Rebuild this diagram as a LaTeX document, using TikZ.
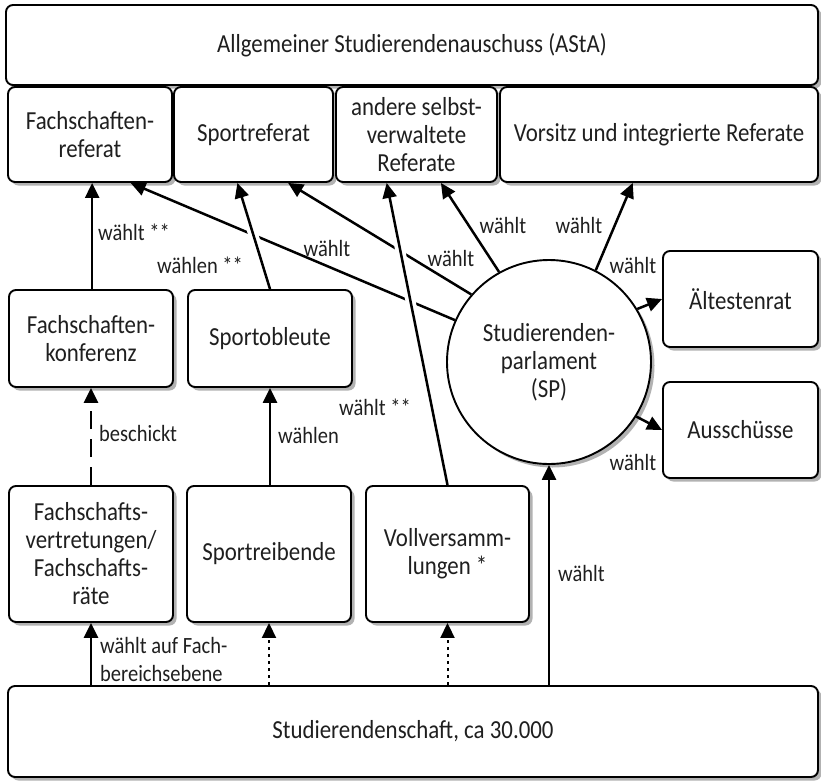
\documentclass[tikz,border=0pt]{standalone}
\usepackage{fontspec}
\setmainfont{Carlito}[FakeStretch=0.88]
\usetikzlibrary{arrows.meta,shadows,calc}
\tikzset{
  box/.style={draw, line width=1.9pt, rounded corners=7pt, fill=white, align=center, inner sep=2pt,
    font=\fontsize{26}{28}\selectfont, text=black!88,
    drop shadow={shadow xshift=3.5pt, shadow yshift=-3.5pt, fill=black!30, opacity=1}},
  spcircle/.style={draw, circle, line width=1.9pt, fill=white, align=center, inner sep=0pt, minimum size=204pt,
    font=\fontsize{26}{28}\selectfont, text=black!88,
    drop shadow={shadow xshift=3.5pt, shadow yshift=-3.5pt, fill=black!30, opacity=1}},
  conn/.style={line width=2.5pt, -{Triangle[length=15pt,width=14pt]}},
  dashconn/.style={conn, dash pattern=on 18pt off 10pt},
  dotconn/.style={line width=2pt, dash pattern=on 3pt off 4pt, -{Triangle[length=15pt,width=14pt]}},
  gap/.style={white, line width=10pt},
  lbl/.style={font=\fontsize{23.3}{28}\selectfont, text=black!88, inner sep=0pt, align=left}
}
\begin{document}
\begin{tikzpicture}[x=1pt,y=-1pt]
\useasboundingbox (0,0) rectangle (821,780);
% top
\node[box, minimum width=812pt, minimum height=80pt] (asta) at (412,45) {Allgemeiner Studierendenauschuss (AStA)};
\node[box, minimum width=164pt, minimum height=95pt] (fr) at (90,134.5) {Fachschaften-\\referat};
\node[box, minimum width=159pt, minimum height=95pt] (sr) at (253.5,134.5) {Sportreferat};
\node[box, minimum width=161pt, minimum height=95pt] (ar) at (416.5,134.5) {andere selbst-\\verwaltete\\Referate};
\node[box, minimum width=318pt, minimum height=95pt] (vr) at (659,134.5) {Vorsitz und integrierte Referate};
% middle
\node[box, minimum width=164pt, minimum height=97pt] (fk) at (91,338.5) {Fachschaften-\\konferenz};
\node[box, minimum width=164pt, minimum height=97pt] (so) at (270,338.5) {Sportobleute};
\node[spcircle] (sp) at (549,362) {Studierenden-\\parlament\\(SP)};
\node[box, minimum width=155pt, minimum height=96pt] (ae) at (740.5,299) {Ältestenrat};
\node[box, minimum width=155pt, minimum height=96pt] (au) at (740.5,430) {Ausschüsse};
% bottom
\node[box, minimum width=164pt, minimum height=136pt] (fv) at (91,554) {Fachschafts-\\vertretungen/\\Fachschafts-\\räte};
\node[box, minimum width=164pt, minimum height=136pt] (st) at (269,554) {Sportreibende};
\node[box, minimum width=163pt, minimum height=136pt] (vv) at (447.5,554) {Vollversamm-\\lungen *};
\node[box, minimum width=810pt, minimum height=91pt] (sn) at (413,731.5) {Studierendenschaft, ca 30.000};

% endpoints
\coordinate (frA) at ($(fr.south west)!0.513!(fr.south east)$);
\coordinate (frB) at ($(fr.south west)!0.745!(fr.south east)$);
\coordinate (srA) at ($(sr.south west)!0.40!(sr.south east)$);
\coordinate (srB) at ($(sr.south west)!0.715!(sr.south east)$);
\coordinate (arA) at ($(ar.south west)!0.317!(ar.south east)$);
\coordinate (arB) at ($(ar.south west)!0.65!(ar.south east)$);
\coordinate (vrA) at ($(vr.south west)!0.418!(vr.south east)$);

% SP connectors
\draw[conn] (sp.156.4) -- (frB);
\draw[conn] (sp.139) -- (srB);
\draw[conn] (sp.119.5) -- (arB);
\draw[conn] (sp.63.4) -- (vrA);
\draw[conn] (sp.31.5) -- (ae.west);
\draw[conn] (sp.-32) -- (au.west);
\draw[conn] (sn.north -| sp.south) -- (sp.south);

% gaps at crossings
\draw[gap] ($(so.north)!0.35!(srA)$) -- ($(so.north)!0.70!(srA)$);
\draw[gap] ($(vv.north)!0.55!(arA)$) -- ($(vv.north)!0.83!(arA)$);

% other connectors
\draw[conn] (fk.north -| frA) -- (frA);
\draw[conn] (so.north) -- (srA);
\draw[conn] (vv.north) -- (arA);
\draw[dashconn] (fv.north) -- (fk.south);
\draw[conn] (st.north -| so.south) -- (so.south);
\draw[conn] (sn.north -| fv.south) -- (fv.south);
\draw[dotconn] (sn.north -| st.south) -- (st.south);
\draw[dotconn] (sn.north -| vv.south) -- (vv.south);

% labels
\node[lbl, anchor=west] (l1) at (98,232) {wählt **};
\node[lbl] (l2) at (200,265) {wählen **};
\node[lbl] (l3) at (327,248) {wählt};
\node[lbl] (l4) at (451,258) {wählt};
\node[lbl] (l5) at (503,225) {wählt};
\node[lbl] (l6) at (579,225) {wählt};
\node[lbl] (l7) at (633,265) {wählt};
\node[lbl] (l8) at (633,462) {wählt};
\node[lbl] (l9) at (375,407) {wählt **};
\node[lbl, anchor=west] (l10) at (99,433) {beschickt};
\node[lbl, anchor=west] (l11) at (278,435) {wählen};
\node[lbl, anchor=west] (l12) at (100,659) {wählt auf Fach-\\bereichsebene};
\node[lbl, anchor=west] (l13) at (558,573) {wählt};
\end{tikzpicture}
\end{document}
